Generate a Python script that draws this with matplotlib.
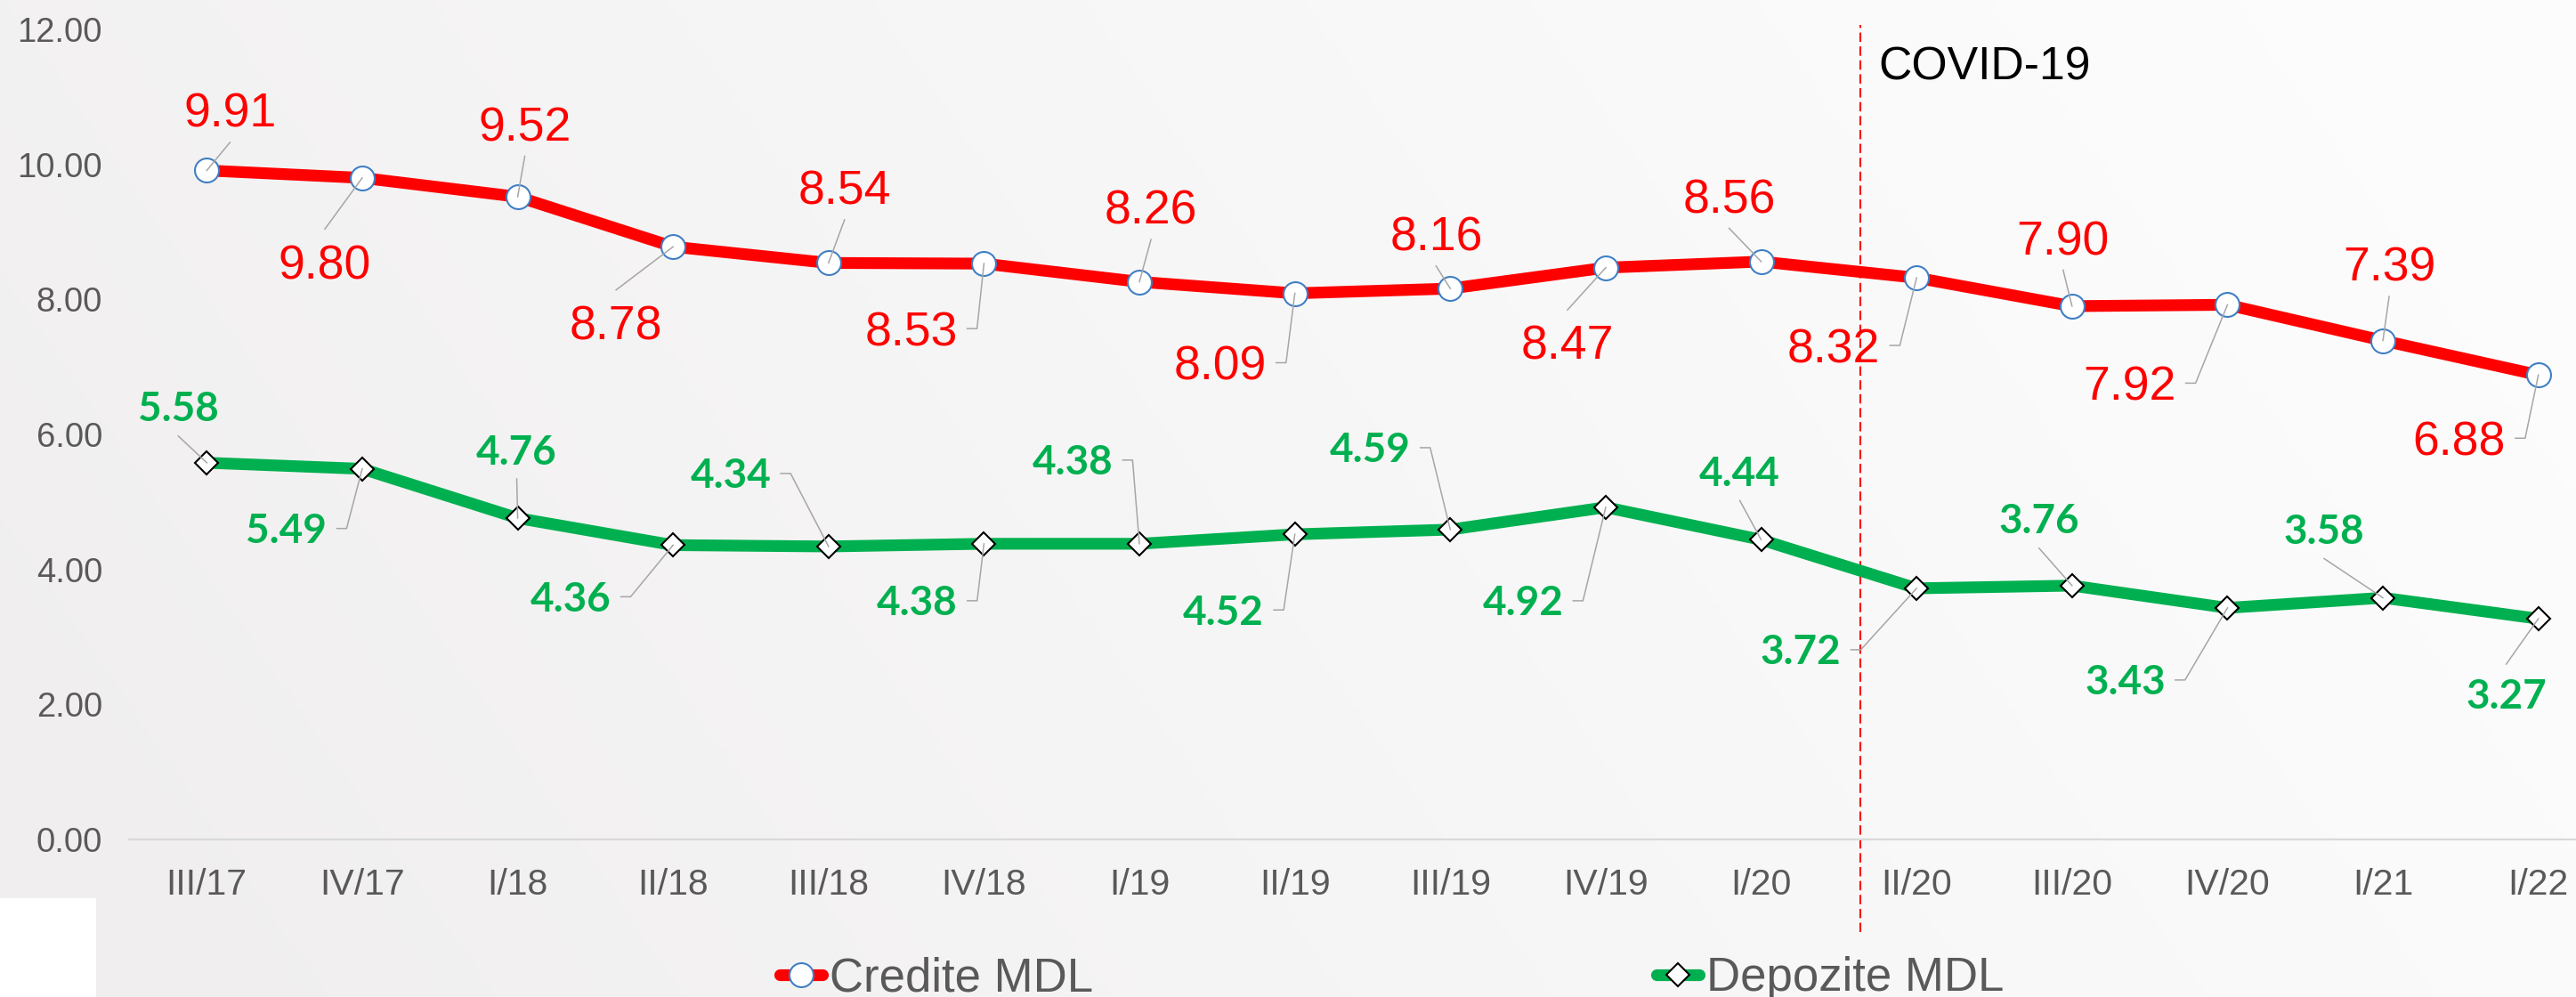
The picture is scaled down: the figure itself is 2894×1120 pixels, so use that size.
import matplotlib
matplotlib.use('Agg')
import matplotlib.pyplot as plt
import numpy as np
from matplotlib.lines import Line2D
from matplotlib.patches import Rectangle
from matplotlib.transforms import IdentityTransform

quarters = ['III/17', 'IV/17', 'I/18', 'II/18', 'III/18', 'IV/18', 'I/19', 'II/19',
            'III/19', 'IV/19', 'I/20', 'II/20', 'III/20', 'IV/20', 'I/21', 'I/22']
credite = [9.91, 9.80, 9.52, 8.78, 8.54, 8.53, 8.26, 8.09,
           8.16, 8.47, 8.56, 8.32, 7.90, 7.92, 7.39, 6.88]
depozite = [5.58, 5.49, 4.76, 4.36, 4.34, 4.38, 4.38, 4.52,
            4.59, 4.92, 4.44, 3.72, 3.76, 3.43, 3.58, 3.27]
y_ticks = [0, 2, 4, 6, 8, 10, 12]

# label placement, pixels from the marker (dx right, dy down) + leader type
red_offsets = [(26, -68), (-42, 94), (8, -82), (-64, 85), (18, -85), (-82, 73), (13, -84), (-84, 78),
               (-16, -62), (-43, 84), (-36, -74), (-93, 76), (-10, -77), (-110, 88), (7, -86), (-89, 71)]
red_kinds = ['s', 's', 's', 's', 's', 'h', 's', 'h', 's', 's', 's', 'h', 's', 'h', 's', 'h']
green_offsets = [(-32, -63), (-85, 67), (-1, -77), (-115, 58), (-110, -82), (-75, 64), (-75, -94), (-80, 85),
                 (-90, -92), (-93, 105), (-24, -77), (-130, 69), (-37, -75), (-115, 81), (-66, -77), (-36, 84)]
green_kinds = ['s', 'h', 's', 'h', 'h', 'h', 'h', 'h', 'h', 'h', 's', 'h', 's', 'h', 's', 's']

RED = '#FF0000'
GREEN = '#00B050'
GREY_TXT = '#595959'
LEADER = '#A6A6A6'

plt.rcParams['font.family'] = ['Liberation Sans', 'DejaVu Sans']

W, H = 2894, 1120
fig = plt.figure(figsize=(W / 100, H / 100), dpi=100)

# soft grey -> white background
bg = fig.add_axes([0, 0, 1, 1], zorder=-10)
yy, xx = np.mgrid[0:1:200j, 0:1:400j]
t = np.clip(0.95 * xx + 0.25 * (0.5 - yy) + 0.05, 0, 1) ** 0.8
c0 = np.array([240, 238, 238]) / 255
c1 = np.array([252, 252, 252]) / 255
img = c0[None, None, :] + (c1 - c0)[None, None, :] * t[..., None]
bg.imshow(img, aspect='auto', extent=[0, 1, 0, 1], origin='upper')
bg.axis('off')

fig.add_artist(Rectangle((0, 0), 108 / W, (H - 1009) / H, transform=fig.transFigure,
                         facecolor='white', edgecolor='none', zorder=-5))

ax = fig.add_axes([145 / W, 1 - 943 / H, 2794 / W, (943 - 33) / H])
ax.patch.set_alpha(0)
x = np.arange(len(quarters))

ax.plot(x, credite, color=RED, lw=9.5, solid_capstyle='round', solid_joinstyle='round',
        marker='o', ms=19.4, mfc='white', mec='#3F7FC4', mew=1.5, zorder=3, label='Credite MDL')
ax.plot(x, depozite, color=GREEN, lw=9.5, solid_capstyle='round', solid_joinstyle='round',
        marker='D', ms=13.7, mfc='white', mec='black', mew=1.5, zorder=3, label='Depozite MDL')

ax.set_xlim(-0.5, len(quarters) - 0.5)
ax.set_ylim(0, 12)
ax.set_xticks(x)
ax.set_xticklabels(quarters)
ax.set_yticks(y_ticks)
ax.set_yticklabels([f'{v:.2f}' for v in y_ticks])
ax.tick_params(axis='x', length=0, pad=23, labelsize=29.5, labelcolor=GREY_TXT)
ax.tick_params(axis='y', length=0, pad=21.6, labelsize=27.5, labelcolor=GREY_TXT)
for s in ['top', 'right', 'left']:
    ax.spines[s].set_visible(False)
ax.spines['bottom'].set_color('#D9D9D9')
ax.spines['bottom'].set_linewidth(1.6)

# COVID-19 marker line
covid_x = 10.64
ax.axvline(covid_x, ymin=-1.37 / 12, ymax=12.07 / 12, color=RED, lw=1.5,
           linestyle=(0, (5, 2.5)), clip_on=False, zorder=2)
ax.annotate('COVID-19', xy=(covid_x, 12), xytext=(20, -57), textcoords='offset pixels',
            ha='left', va='baseline', fontsize=37.3, color='black')

# data labels
anns = []
for vals, offs, col, kw, half_h in [
        (credite, red_offsets, RED, dict(fontsize=38.5), 19.2),
        (depozite, green_offsets, GREEN, dict(fontsize=33, fontfamily='Lato', fontweight='bold'), 16.5)]:
    row = []
    for i, v in enumerate(vals):
        dx, dy = offs[i]
        a = ax.annotate(f'{v:.2f}', xy=(i, v), xytext=(dx, -dy - half_h), textcoords='offset pixels',
                        ha='center', va='baseline', color=col, zorder=5, **kw)
        row.append(a)
    anns.append(row)

fig.canvas.draw()
renderer = fig.canvas.get_renderer()

for vals, offs, kinds, row, gap in [(credite, red_offsets, red_kinds, anns[0], 36.5),
                                    (depozite, green_offsets, green_kinds, anns[1], 33)]:
    for i, v in enumerate(vals):
        mx, my = ax.transData.transform((i, v))
        dx, dy = offs[i]
        tx, ty = mx + dx, my - dy
        if kinds[i] == 'h':
            bb = row[i].get_window_extent(renderer)
            xs = [bb.x1 + 11, bb.x1 + 22, mx]
            ys = [ty, ty, my]
        else:
            sy = ty - gap if dy < 0 else ty + gap
            xs = [tx, mx]
            ys = [sy, my]
        ax.add_line(Line2D(xs, ys, transform=IdentityTransform(), color=LEADER, lw=1.1,
                           zorder=4, clip_on=False))

leg = fig.legend(loc='center left', bbox_to_anchor=(876 / W, 1 - 1099 / H), ncol=2, frameon=False,
                 fontsize=38, handlelength=0.91, handletextpad=0.15, columnspacing=12.0,
                 borderpad=0, borderaxespad=0, labelcolor=GREY_TXT)

fig.savefig('out.png', dpi=100)
